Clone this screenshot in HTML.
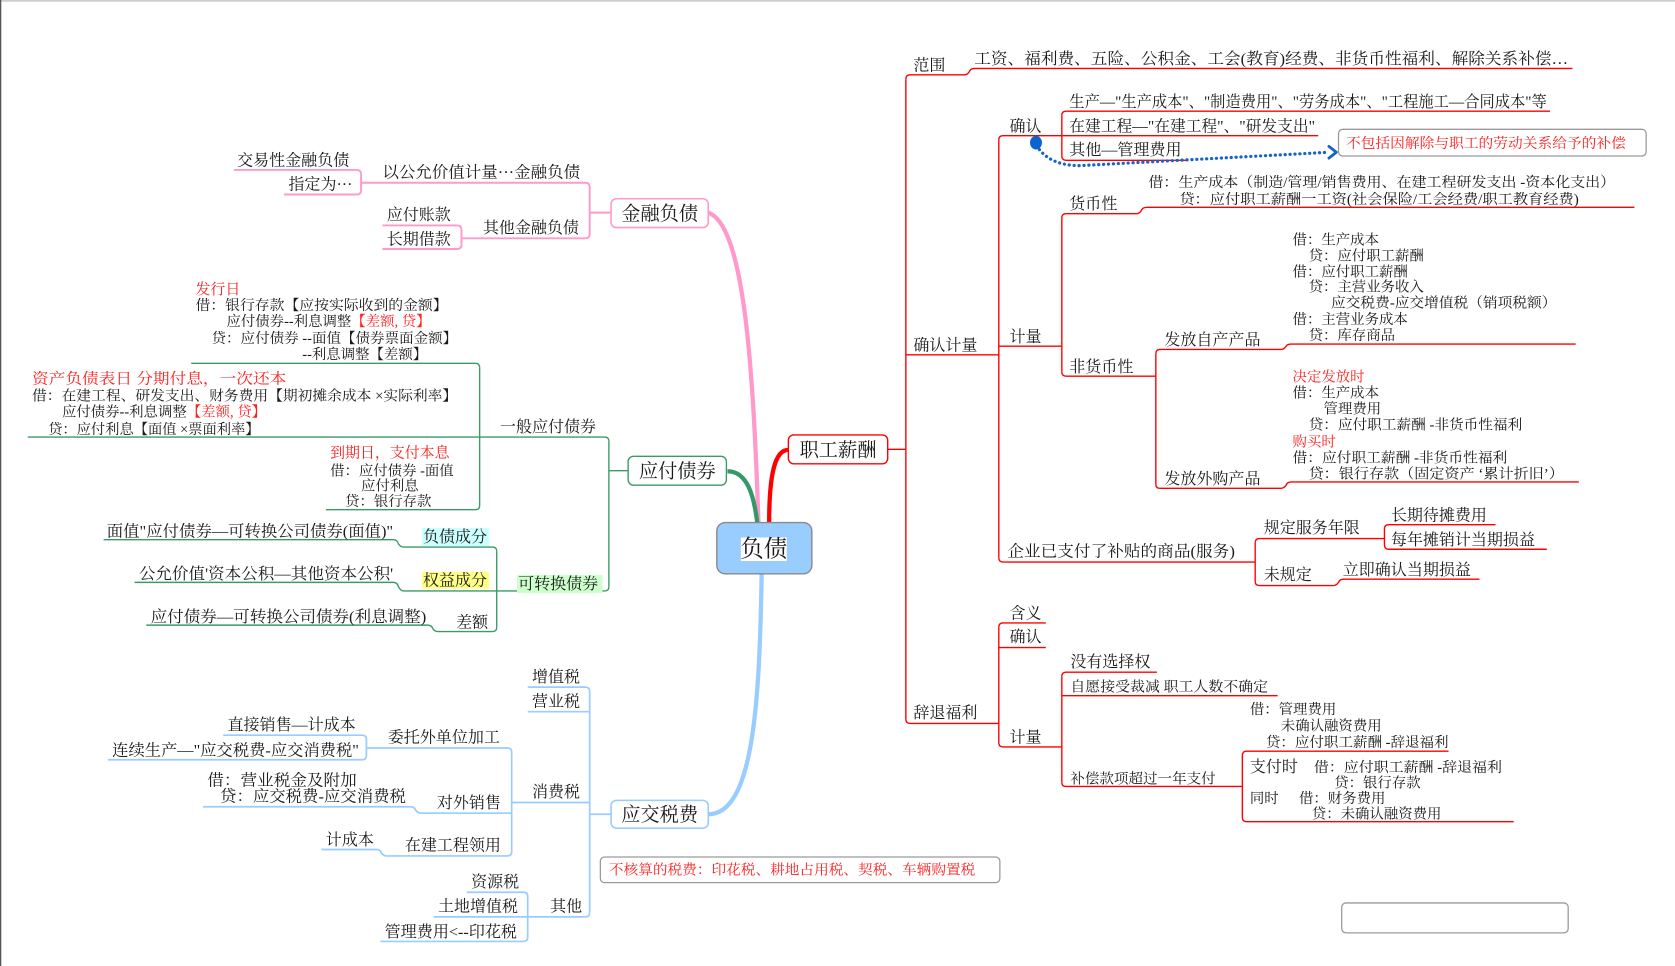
<!DOCTYPE html>
<html><head><meta charset="utf-8">
<style>
html,body{margin:0;padding:0;background:#fff;}
svg{display:block;}
text{font-family:"Liberation Serif","Noto Serif CJK SC",serif;fill:#1a1a1a;}
.t{font-size:15px;}
.d{font-size:13.5px;}
.r{fill:#ff2020;}
.L1{font-size:18px;}
.red{stroke:#ff0000;stroke-width:1.3;fill:none;}
.pk{stroke:#ff99cc;stroke-width:1.8;fill:none;}
.gr{stroke:#3a9a68;stroke-width:1.3;fill:none;}
.bl{stroke:#99ccff;stroke-width:1.6;fill:none;}
</style></head>
<body>
<svg width="1675" height="966" viewBox="0 0 1568 904" preserveAspectRatio="none" xmlns="http://www.w3.org/2000/svg">
<rect x="0" y="0" width="1568" height="904" fill="#fff"/>
<line x1="0" y1="0.8" x2="1568" y2="0.8" stroke="#cfcfcf" stroke-width="1.6"/>
<line x1="0.6" y1="0" x2="0.6" y2="904" stroke="#555" stroke-width="1.2"/>

<!-- main thick connectors -->
<path d="M710,490 C705,330 695,210 663,199" stroke="#ff99cc" stroke-width="4" fill="none"/>
<path d="M681,441 C700,441 706,465 709,490" stroke="#339966" stroke-width="4" fill="none"/>
<path d="M738,421 C725,421 720,445 720,490" stroke="#ff0000" stroke-width="4" fill="none"/>
<path d="M713,537 C711,660 705,762 663,762" stroke="#99ccff" stroke-width="4" fill="none"/>

<!-- ===== RED subtree (职工薪酬) ===== -->
<path class="red" d="M831,420.5 H848"/>
<path class="red" d="M848,74 V673"/>
<path class="red" d="M848,74 Q848,70 852,70 H903 Q906,70 908,66 Q909,64 913,64 H1472"/>
<path class="red" d="M848,332 H935"/>
<path class="red" d="M848,673 Q848,677 852,677 H935"/>
<path class="red" d="M935,131 V522"/>
<path class="red" d="M935,131 Q935,127 939,127 H1234"/>
<path class="red" d="M935,324 H994"/>
<path class="red" d="M935,522 Q935,526 939,526 H1175"/>
<path class="red" d="M994,108 V146"/>
<path class="red" d="M994,108 Q994,104 998,104 H1451"/>
<path class="red" d="M994,146 Q994,150 998,150 H1112"/>
<path class="red" d="M994,204 V348"/>
<path class="red" d="M994,204 Q994,200 998,200 H1064 Q1067,200 1069,196 Q1070,194 1074,194 H1530"/>
<path class="red" d="M994,348 Q994,352 998,352 H1082"/>
<path class="red" d="M1082,331 V453"/>
<path class="red" d="M1082,331 Q1082,327 1086,327 H1199 Q1202,327 1204,324 Q1205,322 1209,322 H1475"/>
<path class="red" d="M1082,453 Q1082,457 1086,457 H1199 Q1202,457 1204,454 Q1205,451 1209,451 H1478"/>
<path class="red" d="M1175,508 V544"/>
<path class="red" d="M1175,508 Q1175,504 1179,504 H1296"/>
<path class="red" d="M1175,544 Q1175,548 1179,548 H1248 Q1251,548 1253,545 Q1254,542 1258,542 H1385"/>
<path class="red" d="M1296,495 V510"/>
<path class="red" d="M1296,495 Q1296,491 1300,491 H1400"/>
<path class="red" d="M1296,510 Q1296,514 1300,514 H1448"/>
<path class="red" d="M935,587 V695"/>
<path class="red" d="M935,587 Q935,583 939,583 H979"/>
<path class="red" d="M935,606 H979"/>
<path class="red" d="M935,695 Q935,699 939,699 H994"/>
<path class="red" d="M994,633 V732"/>
<path class="red" d="M994,633 Q994,629 998,629 H1083"/>
<path class="red" d="M994,651 H1196"/>
<path class="red" d="M994,732 Q994,736 998,736 H1163"/>
<path class="red" d="M1163,707 V765"/>
<path class="red" d="M1163,707 Q1163,703 1167,703 H1356"/>
<path class="red" d="M1163,765 Q1163,769 1167,769 H1417"/>

<!-- red texts -->
<text class="t" x="855" y="66">范围</text>
<text class="t" x="912" y="60" textLength="556" lengthAdjust="spacingAndGlyphs">工资、福利费、五险、公积金、工会(教育)经费、非货币性福利、解除关系补偿…</text>
<text class="t" x="855" y="328">确认计量</text>
<text class="t" x="945" y="123">确认</text>
<text class="t" x="1001" y="100" textLength="447" lengthAdjust="spacingAndGlyphs">生产—"生产成本"、"制造费用"、"劳务成本"、"工程施工—合同成本"等</text>
<text class="t" x="1001" y="123" textLength="230" lengthAdjust="spacingAndGlyphs">在建工程—"在建工程"、"研发支出"</text>
<text class="t" x="1001" y="145" textLength="105" lengthAdjust="spacingAndGlyphs">其他—管理费用</text>
<text class="t" x="945" y="320">计量</text>
<text class="t" x="1001" y="195.5">货币性</text>
<text class="d" x="1075" y="175" textLength="437" lengthAdjust="spacingAndGlyphs">借：生产成本（制造/管理/销售费用、在建工程研发支出  -资本化支出）</text>
<text class="d" x="1104" y="191" textLength="374" lengthAdjust="spacingAndGlyphs">贷：应付职工薪酬一工资(社会保险/工会经费/职工教育经费)</text>
<text class="t" x="1001" y="348">非货币性</text>
<text class="t" x="1090" y="323">发放自产产品</text>
<text class="d" x="1210" y="229">借：生产成本</text>
<text class="d" x="1225" y="244">贷：应付职工薪酬</text>
<text class="d" x="1210" y="259">借：应付职工薪酬</text>
<text class="d" x="1225" y="273">贷：主营业务收入</text>
<text class="d" x="1246" y="288" textLength="211" lengthAdjust="spacingAndGlyphs">应交税费-应交增值税（销项税额）</text>
<text class="d" x="1210" y="303">借：主营业务成本</text>
<text class="d" x="1225" y="318">贷：库存商品</text>
<text class="t" x="1090" y="453">发放外购产品</text>
<text class="d r" x="1210" y="357">决定发放时</text>
<text class="d" x="1210" y="372">借：生产成本</text>
<text class="d" x="1239" y="387">管理费用</text>
<text class="d" x="1225" y="402" textLength="200" lengthAdjust="spacingAndGlyphs">贷：应付职工薪酬 -非货币性福利</text>
<text class="d r" x="1210" y="418">购买时</text>
<text class="d" x="1210" y="433" textLength="201" lengthAdjust="spacingAndGlyphs">借：应付职工薪酬 -非货币性福利</text>
<text class="d" x="1225" y="448" textLength="239" lengthAdjust="spacingAndGlyphs">贷：银行存款（固定资产 ‘累计折旧’）</text>
<text class="t" x="943" y="521" textLength="213" lengthAdjust="spacingAndGlyphs">企业已支付了补贴的商品(服务)</text>
<text class="t" x="1183" y="499">规定服务年限</text>
<text class="t" x="1302" y="487">长期待摊费用</text>
<text class="t" x="1302" y="510">每年摊销计当期损益</text>
<text class="t" x="1183" y="543">未规定</text>
<text class="t" x="1257" y="538">立即确认当期损益</text>
<text class="t" x="855" y="672">辞退福利</text>
<text class="t" x="945" y="579">含义</text>
<text class="t" x="945" y="601">确认</text>
<text class="t" x="945" y="695">计量</text>
<text class="t" x="1002" y="624">没有选择权</text>
<text class="d" x="1002" y="647" textLength="185" lengthAdjust="spacingAndGlyphs">自愿接受裁减  职工人数不确定</text>
<text class="d" x="1002" y="733" textLength="136" lengthAdjust="spacingAndGlyphs">补偿款项超过一年支付</text>
<text class="d" x="1170" y="668">借：管理费用</text>
<text class="d" x="1199" y="683.5">未确认融资费用</text>
<text class="d" x="1185" y="699" textLength="171" lengthAdjust="spacingAndGlyphs">贷：应付职工薪酬 -辞退福利</text>
<text class="t" x="1170" y="722.5">支付时</text>
<text class="d" x="1230" y="722.5" textLength="176" lengthAdjust="spacingAndGlyphs">借：应付职工薪酬 -辞退福利</text>
<text class="d" x="1249" y="737">贷：银行存款</text>
<text class="d" x="1170" y="751.5">同时</text>
<text class="d" x="1216" y="751.5">借：财务费用</text>
<text class="d" x="1228" y="766">贷：未确认融资费用</text>

<!-- note box 1 + dotted arrow -->
<rect x="1253" y="121" width="288" height="25" rx="4" fill="#fff" stroke="#9a9a9a" stroke-width="1.2"/>
<text class="d r" x="1260" y="138.5" textLength="262" lengthAdjust="spacingAndGlyphs">不包括因解除与职工的劳动关系给予的补偿</text>
<ellipse cx="969.8" cy="133.5" rx="5.6" ry="6.4" fill="#0b63d0"/>
<path d="M973,140 Q985,155 1011,155 L1244,142.5" fill="none" stroke="#1565c8" stroke-width="3" stroke-dasharray="0.1 4.5" stroke-linecap="round"/>
<polyline points="1244,137 1251,142.5 1244,148" fill="none" stroke="#1565c8" stroke-width="2.6" stroke-linecap="round" stroke-linejoin="round"/>

<!-- ===== PINK subtree (金融负债) ===== -->
<path class="pk" d="M572,199 H552"/>
<path class="pk" d="M552,175 V219"/>
<path class="pk" d="M552,175 Q552,171 548,171 H338"/>
<path class="pk" d="M552,219 Q552,223 548,223 H432"/>
<path class="pk" d="M338,163 V178"/>
<path class="pk" d="M338,163 Q338,159 334,159 H219"/>
<path class="pk" d="M338,178 Q338,182 334,182 H266"/>
<path class="pk" d="M432,215 V229"/>
<path class="pk" d="M432,215 Q432,211 428,211 H358"/>
<path class="pk" d="M432,229 Q432,233 428,233 H358"/>
<text class="t" x="358" y="166" textLength="185" lengthAdjust="spacingAndGlyphs">以公允价值计量···金融负债</text>
<text class="t" x="222" y="155">交易性金融负债</text>
<text class="t" x="270" y="177.5">指定为···</text>
<text class="t" x="452" y="218">其他金融负债</text>
<text class="t" x="362" y="206">应付账款</text>
<text class="t" x="362" y="229">长期借款</text>

<!-- ===== GREEN subtree (应付债券) ===== -->
<path class="gr" d="M588,440.5 H570"/>
<path class="gr" d="M570,413 V549"/>
<path class="gr" d="M570,413 Q570,409 566,409 H449"/>
<path class="gr" d="M570,549 Q570,553 566,553 H465"/>
<path class="gr" d="M449,344 V473"/>
<path class="gr" d="M449,344 Q449,340 445,340 H179"/>
<path class="gr" d="M449,409 H26"/>
<path class="gr" d="M449,473 Q449,477 445,477 H305"/>
<path class="gr" d="M465,516 V587"/>
<path class="gr" d="M465,516 Q465,512 461,512 H378 Q375,512 373,509 Q372,505 368,505 H97"/>
<path class="gr" d="M465,553 H378 Q375,553 373,549 Q372,545 368,545 H126"/>
<path class="gr" d="M465,587 Q465,591 461,591 H410 Q407,591 405,588 Q404,585 400,585 H137"/>

<text class="t" x="468" y="404.5">一般应付债券</text>
<text class="d r" x="183" y="275" style="font-size:14px">发行日</text>
<text class="d" x="183" y="290" textLength="236" lengthAdjust="spacingAndGlyphs">借：银行存款【应按实际收到的金额】</text>
<text class="d" x="212" y="305">应付债券--利息调整<tspan class="r">【差额, 贷】</tspan></text>
<text class="d" x="198" y="321" textLength="230" lengthAdjust="spacingAndGlyphs">贷：应付债券 --面值【债券票面金额】</text>
<text class="d" x="283" y="336">--利息调整【差额】</text>
<text class="d r" x="30" y="359" style="font-size:14px" textLength="238" lengthAdjust="spacingAndGlyphs">资产负债表日  分期付息，一次还本</text>
<text class="d" x="30" y="375" textLength="398" lengthAdjust="spacingAndGlyphs">借：在建工程、研发支出、财务费用【期初摊余成本 ×实际利率】</text>
<text class="d" x="58" y="390">应付债券--利息调整<tspan class="r">【差额, 贷】</tspan></text>
<text class="d" x="45" y="406" textLength="198" lengthAdjust="spacingAndGlyphs">贷：应付利息【面值 ×票面利率】</text>
<text class="d r" x="309" y="428" style="font-size:14px">到期日，支付本息</text>
<text class="d" x="309" y="445">借：应付债券 -面值</text>
<text class="d" x="338" y="459">应付利息</text>
<text class="d" x="323" y="473.5">贷：银行存款</text>

<rect x="484" y="538" width="80" height="17" fill="#ccffcc"/>
<text class="t" x="485" y="551">可转换债券</text>
<rect x="395" y="494" width="63" height="17" fill="#ccffff"/>
<text class="t" x="396" y="507">负债成分</text>
<rect x="395" y="535" width="63" height="16" fill="#ffff88"/>
<text class="t" x="396" y="548">权益成分</text>
<text class="t" x="100" y="502" textLength="268" lengthAdjust="spacingAndGlyphs">面值"应付债券—可转换公司债券(面值)"</text>
<text class="t" x="130" y="542" textLength="238" lengthAdjust="spacingAndGlyphs">公允价值'资本公积—其他资本公积'</text>
<text class="t" x="427" y="587">差额</text>
<text class="t" x="141" y="582" textLength="258" lengthAdjust="spacingAndGlyphs">应付债券—可转换公司债券(利息调整)</text>

<!-- ===== BLUE subtree (应交税费) ===== -->
<path class="bl" d="M572,762 H552"/>
<path class="bl" d="M552,647 V854"/>
<path class="bl" d="M552,647 Q552,643 548,643 H494"/>
<path class="bl" d="M552,666 H494"/>
<path class="bl" d="M552,751 H479"/>
<path class="bl" d="M552,854 Q552,858 548,858 H494"/>
<path class="bl" d="M479,704 V797"/>
<path class="bl" d="M479,704 Q479,700 475,700 H343"/>
<path class="bl" d="M479,761 H394 Q391,761 389,758 Q388,755 384,755 H190"/>
<path class="bl" d="M479,797 Q479,801 475,801 H362 Q359,801 357,798 Q356,795 352,795 H301"/>
<path class="bl" d="M343,692 V707"/>
<path class="bl" d="M343,692 Q343,688 339,688 H209"/>
<path class="bl" d="M343,707 Q343,711 339,711 H101"/>
<path class="bl" d="M494,839 V877"/>
<path class="bl" d="M494,839 Q494,835 490,835 H437"/>
<path class="bl" d="M494,858 H406"/>
<path class="bl" d="M494,877 Q494,881 490,881 H356"/>

<text class="t" x="498" y="638">增值税</text>
<text class="t" x="498" y="661">营业税</text>
<text class="t" x="498" y="746">消费税</text>
<text class="t" x="363" y="695">委托外单位加工</text>
<text class="t" x="213" y="683">直接销售—计成本</text>
<text class="t" x="105" y="707" textLength="231" lengthAdjust="spacingAndGlyphs">连续生产—"应交税费-应交消费税"</text>
<text class="t" x="409" y="756">对外销售</text>
<text class="t" x="194" y="735" textLength="140" lengthAdjust="spacingAndGlyphs">借：营业税金及附加</text>
<text class="t" x="206" y="750" textLength="174" lengthAdjust="spacingAndGlyphs">贷：应交税费-应交消费税</text>
<text class="t" x="379" y="796">在建工程领用</text>
<text class="t" x="305" y="791">计成本</text>
<text class="t" x="515" y="853">其他</text>
<text class="t" x="441" y="830">资源税</text>
<text class="t" x="410" y="853">土地增值税</text>
<text class="t" x="360" y="877" textLength="124" lengthAdjust="spacingAndGlyphs">管理费用&lt;--印花税</text>

<rect x="562" y="802" width="374" height="24" rx="4" fill="#fff" stroke="#9a9a9a" stroke-width="1.2"/>
<text class="d r" x="570" y="818.5" textLength="343" lengthAdjust="spacingAndGlyphs">不核算的税费：印花税、耕地占用税、契税、车辆购置税</text>

<rect x="1256" y="845" width="212" height="28" rx="4" fill="#fff" stroke="#9a9a9a" stroke-width="1.2"/>

<!-- level-1 boxes -->
<rect x="572" y="186" width="91" height="27" rx="5" fill="#fff" stroke="#ff99cc" stroke-width="1.5"/>
<text class="L1" x="617.5" y="206" text-anchor="middle">金融负债</text>
<rect x="588" y="427" width="92" height="27" rx="5" fill="#fff" stroke="#3a9a68" stroke-width="1.3"/>
<text class="L1" x="634" y="447" text-anchor="middle">应付债券</text>
<rect x="738" y="407" width="93" height="27" rx="5" fill="#fff" stroke="#ff0000" stroke-width="1.3"/>
<text class="L1" x="784.5" y="427" text-anchor="middle">职工薪酬</text>
<rect x="572" y="749" width="91" height="26" rx="5" fill="#fff" stroke="#99ccff" stroke-width="1.5"/>
<text class="L1" x="617.5" y="768.5" text-anchor="middle">应交税费</text>

<!-- center -->
<rect x="671" y="489" width="89" height="48" rx="8" fill="#99ccff" stroke="#8a8a8a" stroke-width="1.3"/>
<rect x="693.5" y="503" width="43" height="22" fill="#fff"/>
<text x="715" y="521" text-anchor="middle" style="font-size:22px">负债</text>
</svg>
</body></html>
